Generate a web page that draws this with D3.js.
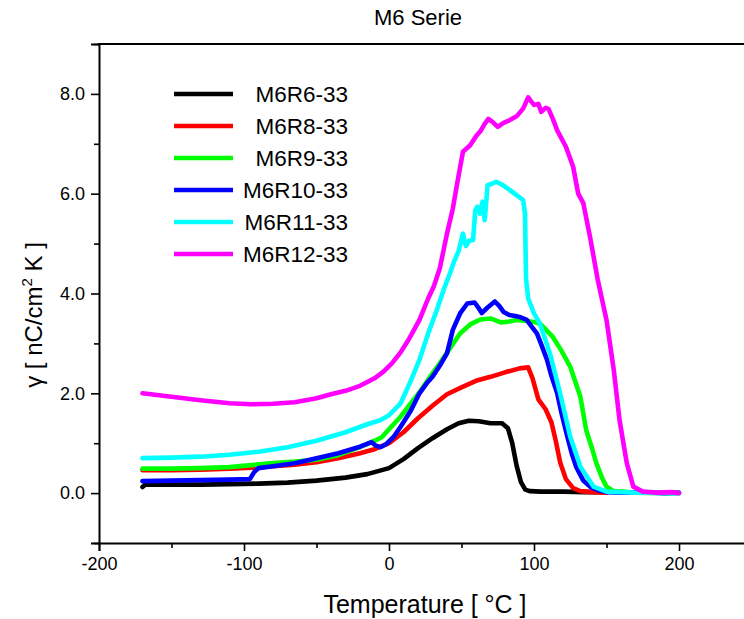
<!DOCTYPE html>
<html>
<head>
<meta charset="utf-8">
<script src="https://cdn.jsdelivr.net/npm/d3@7"></script>
<style>
  html, body { margin: 0; padding: 0; background: #fff; }
  svg { display: block; font-family: "Liberation Sans", Arial, sans-serif; }
</style>
</head>
<body>
<svg id="chart" width="744" height="619"></svg>
<script>
// ---- Data ----
const seriesNames = ["M6R6-33", "M6R8-33", "M6R9-33", "M6R10-33", "M6R11-33", "M6R12-33"];
const seriesColors = ["#000000", "#ff0000", "#00ff00", "#0000ff", "#00ffff", "#ff00ff"];

const tR6 = [-170, -168, -150, -130, -110, -90, -70, -50, -30, -15, 0, 10, 20, 30, 40, 48, 55, 62, 70, 78, 82, 85, 88, 91, 94, 97, 105, 120, 135, 150];
const vR6 = [0.12, 0.17, 0.17, 0.17, 0.18, 0.19, 0.21, 0.25, 0.31, 0.38, 0.5, 0.68, 0.9, 1.1, 1.28, 1.4, 1.45, 1.44, 1.4, 1.4, 1.3, 1.0, 0.55, 0.22, 0.07, 0.04, 0.03, 0.03, 0.02, 0.02];

const tR8 = [-170, -150, -130, -110, -95, -80, -65, -50, -35, -20, -10, 0, 10, 20, 30, 40, 50, 60, 70, 80, 90, 96, 99, 103, 108, 112, 115, 118, 122, 127, 132, 140, 150];
const vR8 = [0.46, 0.46, 0.47, 0.49, 0.51, 0.54, 0.57, 0.62, 0.7, 0.8, 0.88, 1.0, 1.22, 1.5, 1.75, 1.98, 2.12, 2.25, 2.33, 2.42, 2.5, 2.52, 2.3, 1.88, 1.68, 1.42, 1.05, 0.62, 0.28, 0.1, 0.04, 0.02, 0.01];

const tR9 = [-170, -150, -130, -110, -95, -80, -65, -50, -35, -20, -10, -5, 0, 8, 15, 22, 30, 35, 42, 49, 56, 63, 70, 77, 83, 88, 95, 100, 104, 108, 113, 119, 125, 132, 136, 140, 143, 147, 150, 155, 170, 200];
const vR9 = [0.49, 0.49, 0.5, 0.52, 0.56, 0.6, 0.63, 0.67, 0.76, 0.92, 1.05, 1.12, 1.28, 1.53, 1.8, 2.06, 2.4, 2.6, 2.9, 3.2, 3.38, 3.48, 3.5, 3.42, 3.44, 3.47, 3.45, 3.43, 3.4, 3.28, 3.13, 2.85, 2.53, 1.93, 1.26, 0.9, 0.6, 0.3, 0.13, 0.04, 0.01, 0.0];

const tR10 = [-170, -150, -130, -110, -96, -93, -90, -80, -65, -50, -35, -20, -12, -9, -6, -2, 3, 8, 15, 21, 26, 30, 35, 40, 44, 49, 54, 59, 62, 64, 68, 73, 76, 79, 83, 87, 90, 95, 98, 102, 105, 109, 112, 116, 119, 123, 126, 129, 134, 139, 145, 150, 160, 175, 190, 200];
const vR10 = [0.24, 0.25, 0.26, 0.27, 0.28, 0.42, 0.5, 0.54, 0.6, 0.7, 0.8, 0.93, 1.02, 0.95, 0.92, 0.98, 1.12, 1.33, 1.65, 2.0, 2.2, 2.33, 2.55, 2.8, 3.27, 3.6, 3.8, 3.82, 3.7, 3.61, 3.72, 3.84, 3.75, 3.63, 3.57, 3.55, 3.53, 3.47, 3.35, 3.2, 2.98, 2.67, 2.35, 2.0, 1.6, 1.13, 0.8, 0.53, 0.25, 0.12, 0.05, 0.02, 0.01, 0.02, 0.0, 0.01];

const tR11 = [-170, -150, -130, -110, -90, -70, -50, -30, -15, -6, 0, 8, 15, 21, 27, 33, 38, 42, 45, 48, 51, 53, 55, 58, 59.5, 61, 62.8, 64.5, 66, 68, 71, 74, 78, 82, 88, 92.5, 93.8, 94.5, 96, 100, 104, 111, 118, 125, 132, 141, 150, 170, 200];
const vR11 = [0.7, 0.71, 0.73, 0.77, 0.83, 0.92, 1.05, 1.22, 1.38, 1.46, 1.56, 1.8, 2.25, 2.67, 3.2, 3.67, 4.1, 4.4, 4.65, 4.85, 5.2, 4.95, 5.05, 5.07, 5.67, 5.74, 5.6, 5.84, 5.47, 6.17, 6.2, 6.24, 6.18, 6.1, 5.97, 5.87, 5.6, 4.3, 3.9, 3.6, 3.4, 2.8, 2.0, 1.13, 0.53, 0.13, 0.03, 0.01, 0.0];

const tR12 = [-170, -150, -130, -110, -95, -80, -65, -50, -40, -30, -20, -10, -4, 2, 8, 14, 21, 27, 31, 35, 40, 44, 47, 51, 56, 60, 63, 66, 68.5, 71, 75, 79, 83, 88, 92.6, 96, 98, 100, 103, 105, 108, 110, 113, 116, 122, 127, 130.5, 134, 138.6, 144, 150, 155, 159, 164, 168.5, 175, 185, 195, 200];
const vR12 = [2.0, 1.93, 1.86, 1.8, 1.78, 1.79, 1.82, 1.9, 1.98, 2.05, 2.15, 2.3, 2.43, 2.6, 2.82, 3.1, 3.47, 3.9, 4.15, 4.5, 5.2, 5.7, 6.2, 6.84, 6.97, 7.15, 7.25, 7.4, 7.5, 7.45, 7.34, 7.42, 7.47, 7.55, 7.71, 7.93, 7.85, 7.78, 7.8, 7.64, 7.72, 7.7, 7.5, 7.27, 6.94, 6.54, 6.0, 5.81, 5.14, 4.27, 3.47, 2.47, 1.46, 0.6, 0.13, 0.03, 0.01, 0.02, 0.0];

const xTicks = [-200, -100, 0, 100, 200];
const xMinorTicks = [-150, -50, 50, 150, 250];
const yTicks = [0, 2, 4, 6, 8];
const yMinorTicks = [-1, 1, 3, 5, 7, 9];
const xTickLabels = ["-200", "-100", "0", "100", "200"];
const yTickLabels = ["0.0", "2.0", "4.0", "6.0", "8.0"];

const titleText = "M6 Serie";
const xLabelText = "Temperature [ °C ]";

// ---- Build ----
const temps = [tR6, tR8, tR9, tR10, tR11, tR12];
const vals = [vR6, vR8, vR9, vR10, vR11, vR12];
const series = seriesNames.map((name, i) => ({
  name, color: seriesColors[i],
  points: temps[i].map((t, j) => [t, vals[i][j]])
}));

const svg = d3.select("#chart");
const x = d3.scaleLinear().domain([-200, 250]).range([99, 751.5]);
const y = d3.scaleLinear().domain([-1, 9]).range([543, 44]);

// Title
svg.append("text").attr("x", 418).attr("y", 25).attr("text-anchor", "middle")
  .attr("font-size", 22).text(titleText);

// Curves
const line = d3.line().x(d => x(d[0])).y(d => y(d[1]));
svg.append("g").selectAll("path").data(series).join("path")
  .attr("d", d => line(d.points))
  .attr("fill", "none")
  .attr("stroke", d => d.color)
  .attr("stroke-width", 4.6)
  .attr("stroke-linejoin", "round")
  .attr("stroke-linecap", "round");

// Axes
const xAxis = svg.append("g").attr("transform", `translate(0,${y(-1)})`)
  .call(d3.axisBottom(x).tickValues(xTicks).tickFormat((d, i) => xTickLabels[i]).tickSize(8).tickPadding(6));
const xMinor = svg.append("g").attr("transform", `translate(0,${y(-1)})`)
  .call(d3.axisBottom(x).tickValues(xMinorTicks).tickFormat("").tickSize(5));
const yAxis = svg.append("g").attr("transform", `translate(${x(-200)},0)`)
  .call(d3.axisLeft(y).tickValues(yTicks).tickFormat((d, i) => yTickLabels[i]).tickSize(8).tickPadding(6));
const yMinor = svg.append("g").attr("transform", `translate(${x(-200)},0)`)
  .call(d3.axisLeft(y).tickValues(yMinorTicks).tickFormat("").tickSize(5));

[xAxis, xMinor, yAxis, yMinor].forEach(g => {
  g.select(".domain").attr("stroke", "#000").attr("stroke-width", 2);
  g.selectAll(".tick line").attr("stroke", "#000").attr("stroke-width", 1.6);
  g.selectAll(".tick text").attr("font-size", 18).attr("fill", "#000")
    .attr("font-family", "'Liberation Sans', Arial, sans-serif");
});
xMinor.select(".domain").remove();
yMinor.select(".domain").remove();

// Top frame line
svg.append("line").attr("x1", x(-200) - 1).attr("x2", x(250))
  .attr("y1", y(9)).attr("y2", y(9)).attr("stroke", "#000").attr("stroke-width", 2);

// Axis labels
svg.append("text").attr("x", 425).attr("y", 613).attr("text-anchor", "middle")
  .attr("font-size", 25).text(xLabelText);

const yl = svg.append("text")
  .attr("transform", "translate(42,315) rotate(-90)")
  .attr("text-anchor", "middle").attr("font-size", 24);
yl.append("tspan").text("γ [ nC/cm");
yl.append("tspan").attr("font-size", 15).attr("dy", -10).text("2");
yl.append("tspan").attr("dy", 10).text(" K ]");

// Legend
const legend = svg.append("g");
series.forEach((s, i) => {
  const ly = 94 + i * 32;
  legend.append("line").attr("x1", 174).attr("x2", 233).attr("y1", ly).attr("y2", ly)
    .attr("stroke", s.color).attr("stroke-width", 4.5);
  legend.append("text").attr("x", 348).attr("y", ly).attr("dy", "0.36em")
    .attr("text-anchor", "end").attr("font-size", 22.5).text(s.name);
});
</script>
</body>
</html>
